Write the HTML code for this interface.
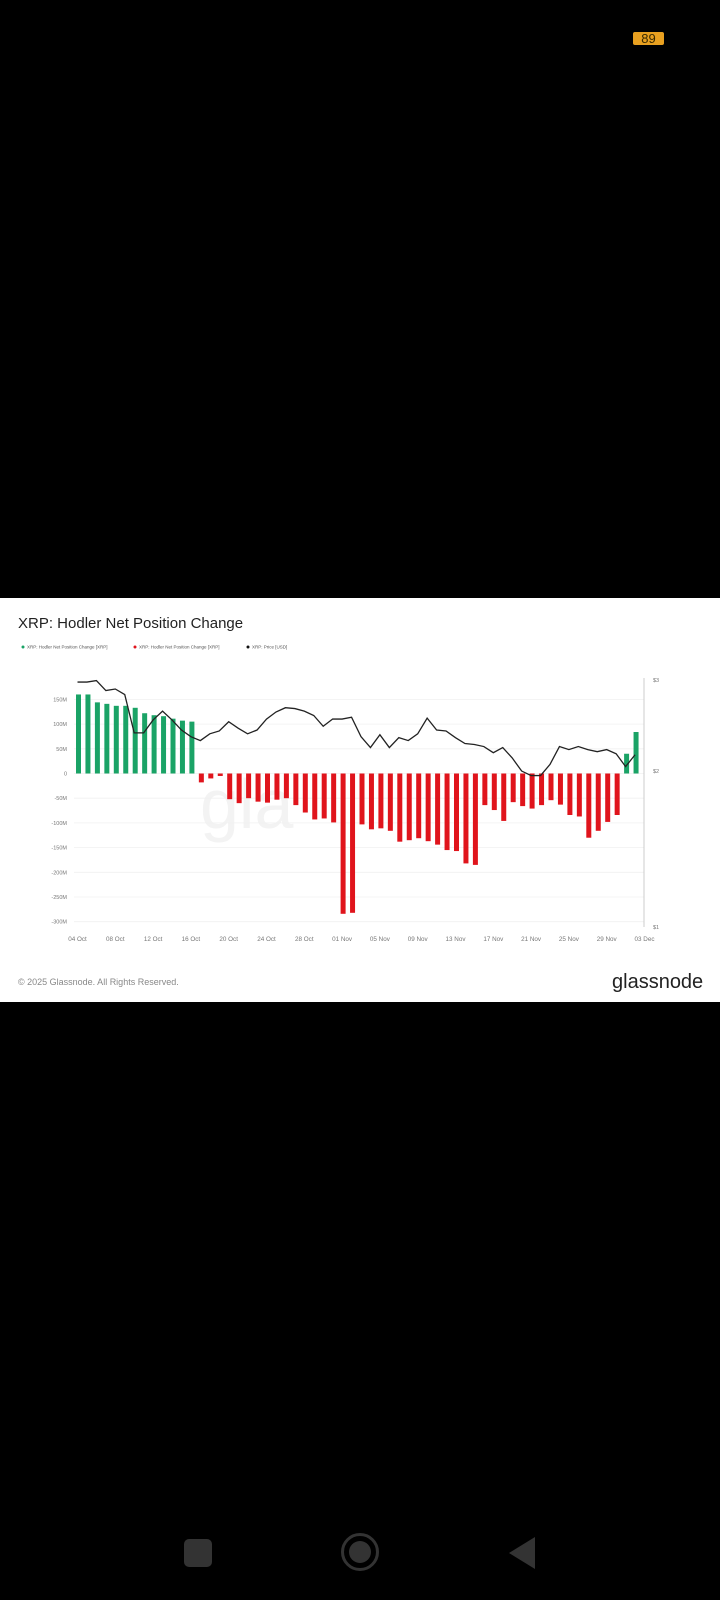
<!DOCTYPE html>
<html><head><meta charset="utf-8"><style>
html,body{margin:0;padding:0;background:#000;width:720px;height:1600px;overflow:hidden;font-family:"Liberation Sans",sans-serif}
</style></head><body>
<div style="position:absolute;left:633px;top:32px;width:31px;height:13px;background:#e8a020;border-radius:2px;color:#3a2a00;font-size:13px;line-height:13px;text-align:center">89</div>
<div style="position:absolute;left:0;top:598px;width:720px;height:404px;background:#fff"></div>
<svg style="position:absolute;left:0;top:0" width="720" height="1600" id="chart">
<text x="18" y="628" font-size="15" fill="#222">XRP: Hodler Net Position Change</text>
<g font-size="4.5" fill="#555">
<circle cx="23" cy="647" r="1.5" fill="#1aa366"/><text x="27" y="648.5">XRP: Hodler Net Position Change [XRP]</text>
<circle cx="135" cy="647" r="1.5" fill="#e0141c"/><text x="139" y="648.5">XRP: Hodler Net Position Change [XRP]</text>
<circle cx="248" cy="647" r="1.5" fill="#111"/><text x="252" y="648.5">XRP: Price [USD]</text>
</g>
<text x="200" y="828" font-size="70" fill="#f3f3f3">gla</text>
<g id="grid"></g><g id="bars"></g><g id="line"></g><g id="axes"></g>
<text x="18" y="985" font-size="9" fill="#888">© 2025 Glassnode. All Rights Reserved.</text>
<text x="612" y="988" font-size="20" fill="#222">glassnode</text>
<rect x="184" y="1539" width="28" height="28" rx="5" fill="#333"/>
<circle cx="360" cy="1552" r="17.5" fill="none" stroke="#333" stroke-width="3"/>
<circle cx="360" cy="1552" r="11" fill="#333"/>
<polygon points="535,1537 535,1569 509,1553" fill="#333"/>
</svg>
<script>
const netChange=[160,160,144,141,137,137,133,122,118,116,111,107,105,-18,-10,-5,-52,-60,-50,-57,-59,-53,-50,-64,-79,-93,-91,-99,-284,-282,-103,-113,-111,-116,-138,-135,-131,-137,-144,-155,-157,-182,-185,-64,-74,-96,-58,-66,-71,-64,-54,-63,-84,-87,-130,-116,-98,-84,40,84];
const price=[2.97,2.97,2.99,2.86,2.88,2.81,2.37,2.37,2.51,2.61,2.51,2.40,2.33,2.29,2.36,2.39,2.49,2.42,2.36,2.40,2.52,2.60,2.65,2.64,2.61,2.56,2.44,2.52,2.52,2.54,2.33,2.22,2.35,2.22,2.32,2.29,2.36,2.53,2.40,2.39,2.32,2.26,2.25,2.23,2.17,2.22,2.12,2.00,1.96,1.96,2.06,2.23,2.20,2.23,2.20,2.18,2.20,2.16,2.04,2.15];
const yTicks=[150,100,50,0,-50,-100,-150,-200,-250,-300];
const yTickLabels=["150M","100M","50M","0","-50M","-100M","-150M","-200M","-250M","-300M"];
const xTickIdx=[0,4,8,12,16,20,24,28,32,36,40,44,48,52,56,60];
const xTickLabels=["04 Oct","08 Oct","12 Oct","16 Oct","20 Oct","24 Oct","28 Oct","01 Nov","05 Nov","09 Nov","13 Nov","17 Nov","21 Nov","25 Nov","29 Nov","03 Dec"];
const priceTicks=[3,2,1];
const priceTickLabels=["$3","$2","$1"];
const NS="http://www.w3.org/2000/svg";
const x=i=>77.5+i*9.45;
const y=v=>773.5-v*24.7/50;
const yp=p=>927-225*Math.log(p);
function mk(tag,attrs,parent,text){const e=document.createElementNS(NS,tag);for(const k in attrs)e.setAttribute(k,attrs[k]);if(text!==undefined)e.textContent=text;document.getElementById(parent).appendChild(e);return e;}
yTicks.forEach((v,i)=>{
 const g=mk('line',{x1:74,x2:644,y1:y(v),y2:y(v),stroke:'#f0f0f0','stroke-width':0.8},'grid');
 
 
 const t=mk('text',{x:67,y:y(v)+2,'font-size':5.5,fill:'#777','text-anchor':'end'},'axes',yTickLabels[i]);
 
 
});
netChange.forEach((v,i)=>{
 const r=mk('rect',{x:x(i)-1.5,y:Math.min(y(v),y(0)),width:5,height:Math.abs(y(v)-y(0)),fill:v>=0?'#1aa366':'#e0141c'},'bars');
 
 
});
const pl=mk('polyline',{points:price.map((p,i)=>x(i)+','+yp(p)).join(' '),fill:'none',stroke:'#222','stroke-width':1.3},'line');


const ax=mk('line',{x1:644,x2:644,y1:678,y2:927,stroke:'#ccc','stroke-width':1},'axes');


priceTicks.forEach((p,i)=>{
 const t=mk('text',{x:653,y:yp(p)+2,'font-size':5.5,fill:'#777'},'axes',priceTickLabels[i]);
 
 
});
xTickIdx.forEach((d,i)=>{
 const t=mk('text',{x:x(d),y:941,'font-size':6.3,fill:'#777','text-anchor':'middle'},'axes',xTickLabels[i]);
 
 
});
</script>
</body></html>
